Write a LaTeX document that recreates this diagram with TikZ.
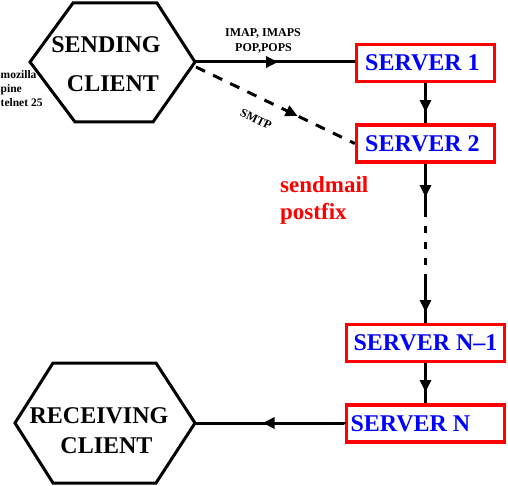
\documentclass[tikz,border=0pt]{standalone}
\usepackage{fontspec}
\setmainfont{Liberation Serif}
\usetikzlibrary{arrows.meta,decorations.markings}
\begin{document}
\begin{tikzpicture}[x=1pt,y=-1pt,
  conn/.style={line width=3pt},
  dashconn/.style={line width=3pt, dash pattern=on 10pt off 9pt},
  vdash/.style={line width=3pt, dash pattern=on 7pt off 9pt},
  midarr/.style={postaction={decorate},decoration={markings,mark=at position #1 with {\arrow{Triangle[length=12pt,width=11pt]}}}},
  hexa/.style={line width=3pt, line join=miter},
  server/.style={draw=red, line width=3.5pt, text=blue, font=\fontsize{24}{28}\selectfont\bfseries, inner sep=0pt, minimum height=37pt},
  bigtxt/.style={font=\fontsize{24}{28}\selectfont\bfseries, anchor=base},
  small/.style={font=\fontsize{12}{14}\selectfont\bfseries},
  tiny/.style={font=\fontsize{11.5}{13}\selectfont\bfseries, anchor=base west, inner sep=0pt},
  redtxt/.style={font=\fontsize{23}{27}\selectfont\bfseries, text=red, anchor=base west, inner sep=0pt}
]
\useasboundingbox (0,0) rectangle (508,486);

% sending client hexagon
\draw[hexa] (30,62) -- (73,3) -- (157,3) -- (195,62) -- (153,122) -- (75,122) -- cycle;
\coordinate (scr) at (195,62);
\coordinate (scd) at (196,67);
\node[bigtxt] (snd1) at (106,53) {SENDING};
\node[bigtxt] (snd2) at (113,92) {CLIENT};

% receiving client hexagon
\draw[hexa] (15,423) -- (53,363) -- (156,363) -- (195,423) -- (156,483) -- (53,483) -- cycle;
\coordinate (rcr) at (195,423);
\node[bigtxt] (rcv1) at (99,423) {RECEIVING};
\node[bigtxt] (rcv2) at (106.5,453) {CLIENT};

% servers
\node[server, minimum width=138pt] (s1) at (425.5,63) {\makebox[120pt][c]{SERVER 1\hspace{6pt}}};
\node[server, minimum width=138pt] (s2) at (425.5,143.5) {\makebox[120pt][c]{SERVER 2\hspace{6pt}}};
\node[server, minimum width=158pt] (sn1) at (425.5,343) {\makebox[145pt][c]{SERVER N\char"2013 1}};
\node[server, minimum width=158pt] (sn) at (425.5,423.5) {\makebox[150pt][l]{SERVER N}};

\coordinate (v1) at (425.5,210);
\coordinate (v2) at (425.5,278);

% connectors
\draw[conn, midarr=0.52] (scr) -- (scr -| s1.west);
\draw[dashconn, midarr=0.64] (scd) -- (s2.west);
\draw[conn, midarr=0.72] (s1.south) -- (s2.north);
\draw[conn, midarr=0.72] (s2.south) -- (v1);
\draw[vdash] (v1) -- (v2);
\draw[conn, midarr=0.76] (v2) -- (sn1.north);
\draw[conn, midarr=0.72] (sn1.south) -- (sn.north);
\draw[conn, midarr=0.55] (sn.west) -- (rcr -| sn.west) -- (rcr);

% labels
\node[small, anchor=base] (l1) at (263,37) {IMAP, IMAPS};
\node[small, anchor=base] (l2) at (263.5,52) {POP,POPS};
\node[small, rotate=-26, inner sep=0pt] (l3) at (256,119) {SMTP};
\node[tiny] (m1) at (0.5,79) {mozilla};
\node[tiny] (m2) at (0.5,93) {pine};
\node[tiny] (m3) at (0.5,107) {telnet 25};
\node[redtxt] (r1) at (280,193) {sendmail};
\node[redtxt] (r2) at (280,220) {postfix};
\end{tikzpicture}
\end{document}
